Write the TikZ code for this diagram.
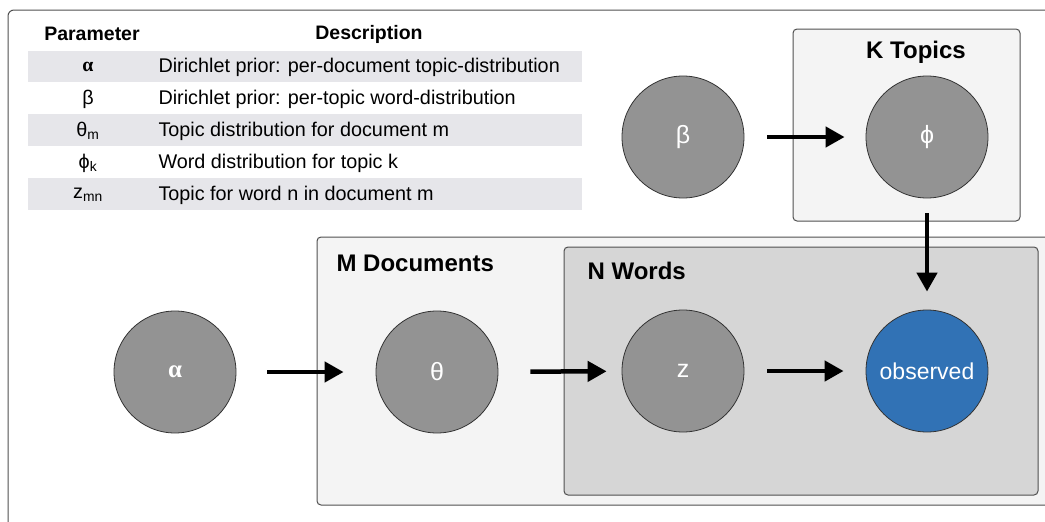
\documentclass[tikz,border=0pt]{standalone}
\usepackage{fontspec}
\setmainfont{Liberation Sans}
\newfontfamily\serifgreek{Liberation Serif}
\usetikzlibrary{arrows.meta}
\definecolor{nodegray}{HTML}{939393}
\definecolor{obsblue}{HTML}{3172B5}
\definecolor{rowgray}{HTML}{E6E6EA}
\definecolor{platelight}{HTML}{F4F4F4}
\definecolor{platedark}{HTML}{D6D6D6}
\definecolor{edgegray}{HTML}{505050}
\begin{document}
\begin{tikzpicture}[x=1pt,y=-1pt,
  var/.style={circle, draw=black!80, line width=0.8pt, fill=nodegray, minimum size=122pt, inner sep=0pt, text=white, font=\fontsize{25}{29}\selectfont},
  obsvar/.style={var, fill=obsblue, font=\fontsize{23}{27}\selectfont},
  plate/.style={draw=edgegray, line width=1pt, rounded corners=4pt},
  platelabel/.style={font=\fontsize{24}{28}\selectfont\bfseries},
  flow/.style={-{Triangle[length=19pt,width=20pt]}, line width=4.5pt},
  headcell/.style={font=\fontsize{19.5}{23}\selectfont\bfseries},
  paramcell/.style={font=\fontsize{19.8}{23}\selectfont},
  desccell/.style={font=\fontsize{19.8}{23}\selectfont, anchor=west},
  rowband/.style={fill=rowgray, draw=none},
]
\useasboundingbox (0,0) rectangle (1045,522);
\begin{scope}
  \clip (0,0) rectangle (1045,522);
  \draw[draw=edgegray, line width=1pt, rounded corners=6pt] (8,10) rectangle (1075,560);
  % plates
  \draw[plate, fill=platelight] (317,237) rectangle (1075,505);
\end{scope}
\draw[plate, fill=platedark] (564,247) rectangle (1038,495);
\draw[plate, fill=platelight] (793,29) rectangle (1020,221);
\node[platelabel, anchor=west] (mlab) at (333,263) {M Documents};
\node[platelabel, anchor=west] (nlab) at (584,271) {N Words};
\node[platelabel] (klab) at (916,52) {K Topics};

% table
\fill[rowband] (28,51) rectangle (582,82);
\fill[rowband] (28,114) rectangle (582,146);
\fill[rowband] (28,178) rectangle (582,210);
\node[headcell] (hp) at (92,34) {Parameter};
\node[headcell] (hd) at (369,34) {Description};
\node[paramcell] (p1) at (88,67) {{\serifgreek\bfseries α}};
\node[paramcell] (p2) at (88,99) {β};
\node[paramcell] (p3) at (88,131) {θ\textsubscript{m}};
\node[paramcell] (p4) at (88,163) {ϕ\textsubscript{k}};
\node[paramcell] (p5) at (88,195) {z\textsubscript{mn}};
\node[desccell] (d1) at (155,67) {Dirichlet prior: per-document topic-distribution};
\node[desccell] (d2) at (155,99) {Dirichlet prior: per-topic word-distribution};
\node[desccell] (d3) at (155,131) {Topic distribution for document m};
\node[desccell] (d4) at (155,163) {Word distribution for topic k};
\node[desccell] (d5) at (155,195) {Topic for word n in document m};

% nodes
\node[var] (beta) at (683,137) {β};
\node[var] (phi) at (927,137) {ϕ};
\node[var] (alpha) at (175,372) {{\serifgreek\bfseries α}};
\node[var] (theta) at (437,372) {θ};
\node[var] (z) at (683,371) {z};
\node[obsvar] (obs) at (927,371) {observed};

% arrows
\draw[flow, shorten <=31pt, shorten >=32pt] (alpha) -- (theta);
\draw[flow, shorten <=32pt, shorten >=15pt] (theta) -- (z);
\draw[flow, shorten <=23pt, shorten >=22pt] (z) -- (obs);
\draw[flow, shorten <=23pt, shorten >=21pt] (beta) -- (phi);
\draw[flow, shorten <=15pt, shorten >=18pt] (phi) -- (obs);
\end{tikzpicture}
\end{document}
